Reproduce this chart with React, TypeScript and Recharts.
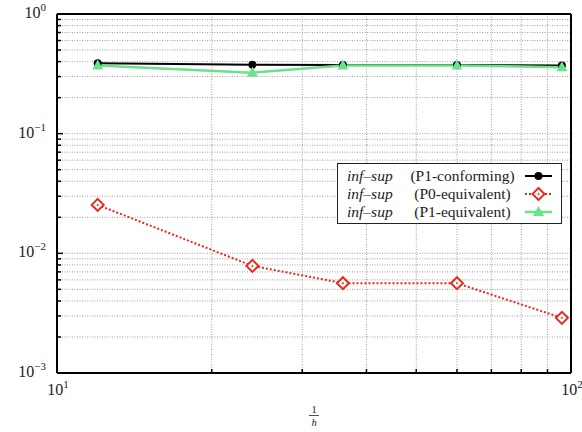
import { CartesianGrid, Line, LineChart, ReferenceLine, XAxis, YAxis } from 'recharts';

// mesh refinement 1/h
const invH = [12, 24, 36, 60, 96];

// inf-sup constants per element pair
const p1Conforming = [0.387, 0.377, 0.375, 0.375, 0.372];
const p0Equivalent = [0.0254, 0.00785, 0.00563, 0.00563, 0.00289];
const p1Equivalent = [0.372, 0.323, 0.372, 0.372, 0.359];

const xTicks = [10, 20, 30, 40, 50, 60, 70, 80, 90, 100];
const yTicks = [
  0.001, 0.002, 0.003, 0.004, 0.005, 0.006, 0.007, 0.008, 0.009,
  0.01, 0.02, 0.03, 0.04, 0.05, 0.06, 0.07, 0.08, 0.09,
  0.1, 0.2, 0.3, 0.4, 0.5, 0.6, 0.7, 0.8, 0.9, 1,
];
const xDecades: Record<number, string> = { 10: '1', 100: '2' };
const yDecades: Record<number, string> = { 0.001: '−3', 0.01: '−2', 0.1: '−1', 1: '0' };

const RED = '#e8291c';
const GREEN = '#69e28b';
const FONT = '"Liberation Serif", "DejaVu Serif", serif';

const data = invH.map((x, i) => ({
  x,
  conforming: p1Conforming[i],
  p0: p0Equivalent[i],
  p1: p1Equivalent[i],
}));

const series = [
  { key: 'conforming', label: '(P1-conforming)' },
  { key: 'p0', label: '(P0-equivalent)' },
  { key: 'p1', label: '(P1-equivalent)' },
];

function circleDot(props: any) {
  const { cx, cy, index } = props;
  return <circle key={`c${index}`} cx={cx} cy={cy} r={4} fill="#000" stroke="none" />;
}

function diamondDot(props: any) {
  const { cx, cy, index } = props;
  const r = 6;
  return (
    <g key={`d${index}`}>
      <path
        d={`M${cx},${cy - r}L${cx + r},${cy}L${cx},${cy + r}L${cx - r},${cy}Z`}
        fill="#fff"
        stroke={RED}
        strokeWidth={2}
      />
      <circle cx={cx} cy={cy} r={1} fill={RED} />
    </g>
  );
}

function triangleDot(props: any) {
  const { cx, cy, index } = props;
  return (
    <path
      key={`t${index}`}
      d={`M${cx},${cy - 6}L${cx + 5.5},${cy + 4}L${cx - 5.5},${cy + 4}Z`}
      fill={GREEN}
      stroke="none"
    />
  );
}

function XTick({ x, y, payload }: any) {
  const v = payload.value;
  const exp = xDecades[v];
  return (
    <g>
      {exp === undefined && <line x1={x} y1={y} x2={x} y2={y - 4} stroke="#000" strokeWidth={1.5} />}
      {exp !== undefined && (
        <text x={x + 1} y={y + 22} textAnchor="middle" fontFamily={FONT} fontSize={16} fill="#222">
          10
          <tspan dy={-7} fontSize={11}>
            {exp}
          </tspan>
        </text>
      )}
    </g>
  );
}

function YTick({ x, y, payload }: any) {
  const v = payload.value;
  const exp = yDecades[v];
  return (
    <g>
      <line x1={x} y1={y} x2={x + (exp ? 6 : 4)} y2={y} stroke="#000" strokeWidth={1.5} />
      {exp !== undefined && (
        <text x={x - 11} y={y + 4} textAnchor="end" fontFamily={FONT} fontSize={16} fill="#222">
          10
          <tspan dy={-7} fontSize={11}>
            {exp}
          </tspan>
        </text>
      )}
    </g>
  );
}

function FracLabel({ viewBox }: any) {
  const cx = viewBox.x + viewBox.width / 2;
  const top = viewBox.y;
  return (
    <g fontFamily={FONT} fill="#222">
      <text x={cx} y={top + 40} textAnchor="middle" fontSize={10.5}>
        1
      </text>
      <line x1={cx - 5} y1={top + 42.5} x2={cx + 5} y2={top + 42.5} stroke="#222" strokeWidth={0.8} />
      <text x={cx} y={top + 52.5} textAnchor="middle" fontSize={10.5} fontStyle="italic">
        h
      </text>
    </g>
  );
}

function LegendSample({ k }: { k: string }) {
  return (
    <svg width={30} height={14} style={{ display: 'block' }}>
      {k === 'conforming' && (
        <>
          <line x1={0} y1={7} x2={27} y2={7} stroke="#000" strokeWidth={2} />
          {circleDot({ cx: 13.5, cy: 7, index: 0 })}
        </>
      )}
      {k === 'p0' && (
        <>
          <line x1={0} y1={7} x2={27} y2={7} stroke={RED} strokeWidth={2} strokeDasharray="2 2" />
          {diamondDot({ cx: 13.5, cy: 7, index: 0 })}
        </>
      )}
      {k === 'p1' && (
        <>
          <line x1={0} y1={7} x2={27} y2={7} stroke={GREEN} strokeWidth={2.5} />
          {triangleDot({ cx: 13.5, cy: 7, index: 0 })}
        </>
      )}
    </svg>
  );
}

export default function App() {
  return (
    <div style={{ position: 'absolute', left: 0, top: 0, width: 582, height: 432, background: '#fff' }}>
      <LineChart width={582} height={432} data={data} margin={{ top: 14, right: 11, bottom: 0, left: 0 }}>
        <CartesianGrid stroke="#a0a0a0" strokeDasharray="1 1.5" />
        <XAxis
          dataKey="x"
          type="number"
          scale="log"
          domain={[10, 100]}
          ticks={xTicks}
          interval={0}
          allowDataOverflow
          height={59}
          tickSize={0}
          tickMargin={0}
          tickLine={false}
          tick={<XTick />}
          axisLine={{ stroke: '#000', strokeWidth: 2 }}
          label={<FracLabel />}
        />
        <YAxis
          type="number"
          scale="log"
          domain={[0.001, 1]}
          ticks={yTicks}
          interval={0}
          allowDataOverflow
          width={57}
          tickSize={0}
          tickMargin={0}
          tickLine={false}
          tick={<YTick />}
          axisLine={{ stroke: '#000', strokeWidth: 2 }}
        />
        <ReferenceLine y={1} stroke="#000" strokeWidth={2} />
        <ReferenceLine x={100} stroke="#000" strokeWidth={2} />
        <Line
          dataKey="conforming"
          stroke="#000"
          strokeWidth={2}
          dot={circleDot}
          activeDot={false}
          isAnimationActive={false}
        />
        <Line
          dataKey="p0"
          stroke={RED}
          strokeWidth={2}
          strokeDasharray="2 2"
          dot={diamondDot}
          activeDot={false}
          isAnimationActive={false}
        />
        <Line
          dataKey="p1"
          stroke={GREEN}
          strokeWidth={2.5}
          dot={triangleDot}
          activeDot={false}
          isAnimationActive={false}
        />
      </LineChart>
      <div
        style={{
          position: 'absolute',
          left: 337,
          top: 163,
          width: 225,
          height: 61,
          border: '1px solid #222',
          background: '#fff',
          fontFamily: FONT,
          fontSize: 15.5,
          color: '#222',
          boxSizing: 'border-box',
          paddingTop: 3,
        }}
      >
        {series.map((s) => (
          <div key={s.key} style={{ display: 'flex', alignItems: 'center', height: 18, lineHeight: '18px' }}>
            <span style={{ fontStyle: 'italic', width: 55, marginLeft: 9 }}>inf–sup</span>
            <span style={{ width: 121, textAlign: 'center', whiteSpace: 'nowrap' }}>{s.label}</span>
            <span style={{ marginLeft: 2 }}>
              <LegendSample k={s.key} />
            </span>
          </div>
        ))}
      </div>
    </div>
  );
}
